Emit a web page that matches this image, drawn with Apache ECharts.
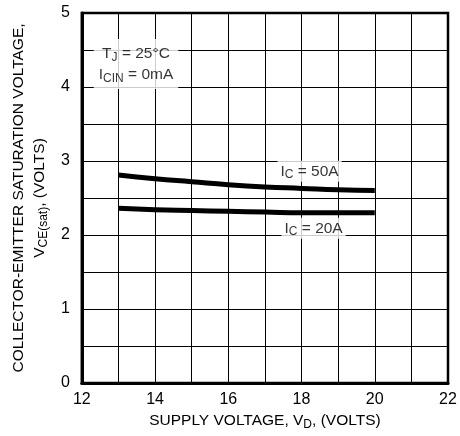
<!DOCTYPE html>
<html><head><meta charset="utf-8">
<script src="https://cdn.jsdelivr.net/npm/echarts@6/dist/echarts.min.js"></script>
<style>html,body{margin:0;padding:0;background:#fff}#c{width:460px;height:436px}</style>
</head><body><div id="c"></div>
<script>
var supplyVoltage = [13, 14, 15, 16, 17, 18, 19, 20];
var vce50A = [2.81, 2.76, 2.72, 2.68, 2.65, 2.63, 2.61, 2.60];
var vce20A = [2.36, 2.34, 2.33, 2.32, 2.31, 2.30, 2.30, 2.30];
var xTicks = [12, 14, 16, 18, 20, 22];
var yTicks = [0, 1, 2, 3, 4, 5];

var F = 'Liberation Sans, Arial, Helvetica, sans-serif';
var rich = {
  a: {fontFamily: F, fontSize: 15.5, color: '#000'},
  s: {fontFamily: F, fontSize: 12, color: '#000', verticalAlign: 'bottom', padding: [7, 0, 0, 0]}
};
function pairs(xs, ys){ return xs.map(function(x,i){return [x, ys[i]];}); }

var chart = echarts.init(document.getElementById('c'));
chart.setOption({
  backgroundColor: '#fff',
  animation: false,
  grid: {left: 81, right: 12, top: 13, bottom: 53, show: true, borderColor: '#000', borderWidth: 2.5},
  xAxis: {
    type: 'value', min: 12, max: 22, interval: 1,
    axisLine: {show: true, lineStyle: {color: '#000', width: 3}},
    axisTick: {show: false},
    splitLine: {show: true, lineStyle: {color: '#000', width: 1}},
    axisLabel: {color: '#000', fontFamily: F, fontSize: 16, margin: 9,
      formatter: function(v){ return xTicks.indexOf(v) >= 0 ? String(v) : ''; }},
    name: '{a|SUPPLY VOLTAGE, V}{s|D}{a|, (VOLTS)}',
    nameLocation: 'middle', nameGap: 16,
    nameTextStyle: {rich: rich}
  },
  yAxis: {
    type: 'value', min: 0, max: 5, interval: 0.5,
    axisLine: {show: true, lineStyle: {color: '#000', width: 3}},
    axisTick: {show: false},
    splitLine: {show: true, lineStyle: {color: '#000', width: 1}},
    axisLabel: {color: '#000', fontFamily: F, fontSize: 16, margin: 12,
      formatter: function(v){ return yTicks.indexOf(v) >= 0 ? String(v) : ''; }},
    name: '{a|COLLECTOR-EMITTER SATURATION VOLTAGE,}\n{a|V}{s|CE(sat)}{a|, (VOLTS)}',
    nameLocation: 'middle', nameGap: 27, nameRotate: 90,
    nameTextStyle: {rich: rich, lineHeight: 21}
  },
  series: [
    {type: 'line', data: pairs(supplyVoltage, vce50A), smooth: true, showSymbol: false,
     lineStyle: {color: '#000', width: 5}, z: 3},
    {type: 'line', data: pairs(supplyVoltage, vce20A), smooth: true, showSymbol: false,
     lineStyle: {color: '#000', width: 5}, z: 3},
    {type: 'scatter', symbolSize: 0, z: 4,
     label: {show: true, position: 'inside', backgroundColor: '#fff', padding: [1, 3, 1, 3],
       formatter: function(p){ return p.data[2]; }, rich: rich},
     data: [
       [18.22, 2.86, '{a|I}{s|C}{a| = 50A}'],
       [18.33, 2.09, '{a|I}{s|C}{a| = 20A}']
     ]},
    {type: 'scatter', symbolSize: 0, z: 4,
     label: {show: true, position: 'inside', backgroundColor: '#fff', padding: [4, 5, 4, 5],
       formatter: function(p){ return p.data[2]; }, rich: {
         a: {fontFamily: F, fontSize: 15.5, color: '#000', lineHeight: 21},
         s: {fontFamily: F, fontSize: 12, color: '#000', verticalAlign: 'bottom', lineHeight: 21, padding: [7,0,0,0]}
       }},
     data: [
       [13.48, 4.31, '{a|T}{s|J}{a| = 25°C}\n{a|I}{s|CIN}{a| = 0mA}']
     ]}
  ]
});
</script></body></html>
